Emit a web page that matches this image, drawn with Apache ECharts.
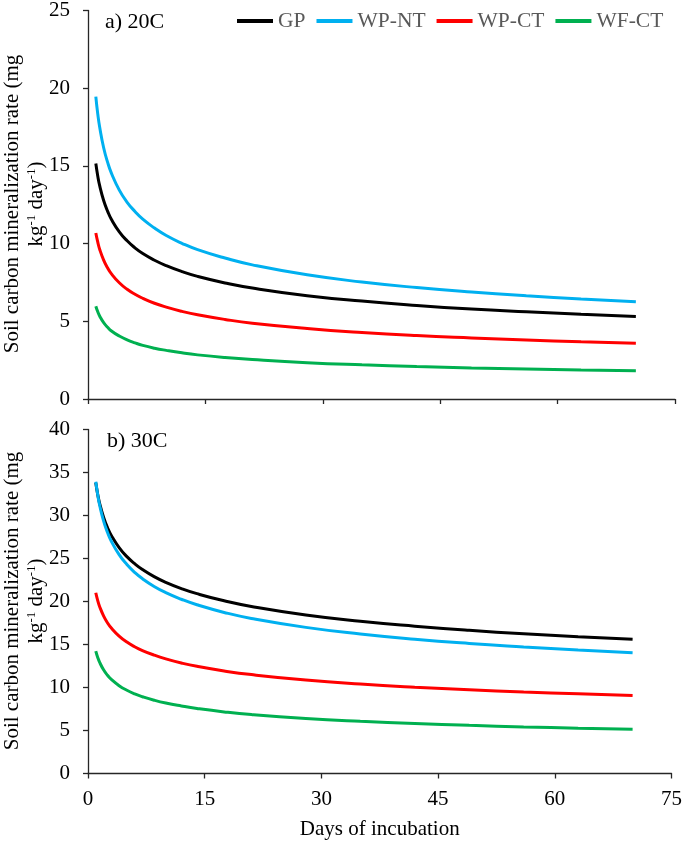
<!DOCTYPE html>
<html>
<head>
<meta charset="utf-8">
<script src="https://cdn.jsdelivr.net/npm/echarts@6/dist/echarts.min.js"></script>
<style>
html,body{margin:0;padding:0;background:#fff;}
#chart{width:685px;height:842px;}
</style>
</head>
<body>
<div id="chart"></div>
<script>
// Days of incubation
var days = [1, 1.25, 1.5, 2, 2.5, 3, 4, 5, 6, 7, 8.5, 10, 12, 14, 17.5, 21, 28, 35, 42, 49, 56, 63, 70];
var seriesNames = ['GP', 'WP-NT', 'WP-CT', 'WF-CT'];
// a) 20C
var gp20   = [15.15, 14.34, 13.71, 12.77, 12.09, 11.55, 10.76, 10.18, 9.73, 9.36, 8.93, 8.58, 8.20, 7.89, 7.47, 7.14, 6.65, 6.30, 6.02, 5.79, 5.61, 5.45, 5.31];
var wpnt20 = [19.46, 18.33, 17.47, 16.17, 15.24, 14.52, 13.44, 12.66, 12.07, 11.57, 11.00, 10.52, 10.02, 9.61, 9.07, 8.63, 7.99, 7.53, 7.17, 6.88, 6.64, 6.44, 6.26];
var wpct20 = [10.68, 10.09, 9.62, 8.94, 8.44, 8.05, 7.48, 7.06, 6.74, 6.48, 6.16, 5.91, 5.64, 5.42, 5.12, 4.88, 4.54, 4.28, 4.08, 3.93, 3.80, 3.68, 3.58];
var wfct20 = [5.97, 5.61, 5.33, 4.91, 4.62, 4.38, 4.05, 3.80, 3.61, 3.45, 3.27, 3.13, 2.97, 2.84, 2.67, 2.54, 2.34, 2.20, 2.09, 2.00, 1.93, 1.86, 1.81];
// b) 30C
var gp30   = [33.8, 32.45, 31.39, 29.80, 28.60, 27.67, 26.27, 25.22, 24.40, 23.72, 22.89, 22.23, 21.50, 20.91, 20.08, 19.42, 18.43, 17.70, 17.13, 16.65, 16.25, 15.90, 15.60];
var wpnt30 = [33.93, 32.40, 31.19, 29.38, 28.06, 27.01, 25.45, 24.30, 23.38, 22.65, 21.75, 21.03, 20.26, 19.62, 18.73, 18.03, 16.99, 16.22, 15.61, 15.12, 14.72, 14.36, 14.05];
var wpct30 = [21.02, 20.11, 19.40, 18.33, 17.53, 16.91, 15.98, 15.28, 14.74, 14.30, 13.77, 13.33, 12.85, 12.46, 11.92, 11.50, 10.87, 10.40, 10.03, 9.73, 9.47, 9.26, 9.06];
var wfct30 = [14.24, 13.50, 12.92, 12.06, 11.43, 10.94, 10.21, 9.68, 9.26, 8.93, 8.52, 8.19, 7.85, 7.56, 7.16, 6.85, 6.40, 6.07, 5.81, 5.60, 5.42, 5.27, 5.14];
var xTicks = [0, 15, 30, 45, 60, 75];

var colors = ['#000000', '#00B0F0', '#FF0000', '#00B050'];
var FONT = '"Liberation Serif", "Times New Roman", serif';
var FS = 21;

function pairs(vals){ return days.map(function(d,i){ return [d, vals[i]]; }); }

var top20 = [gp20, wpnt20, wpct20, wfct20];
var top30 = [gp30, wpnt30, wpct30, wfct30];
var series = [];
[top20, top30].forEach(function(group, gi){
  group.forEach(function(vals, i){
    series.push({
      name: seriesNames[i], type: 'line', xAxisIndex: gi, yAxisIndex: gi,
      data: pairs(vals), smooth: 0.5, showSymbol: false, symbol: 'none',
      lineStyle: {color: colors[i], width: 3}, itemStyle: {color: colors[i]},
      animation: false
    });
  });
});

var axisLineStyle = {color: '#262626', width: 1.3};
function xAxis(gi, showLabels){
  return {
    type: 'value', gridIndex: gi, min: xTicks[0], max: xTicks[xTicks.length-1], interval: 15,
    axisLine: {show: true, onZero: false, lineStyle: axisLineStyle},
    axisTick: {show: true, inside: false, length: 5, lineStyle: axisLineStyle},
    axisLabel: {show: showLabels, color: '#000', fontFamily: FONT, fontSize: FS, margin: 15},
    splitLine: {show: false},
    name: showLabels ? 'Days of incubation' : '',
    nameLocation: 'middle', nameGap: 45,
    nameTextStyle: {color: '#000', fontFamily: FONT, fontSize: FS}
  };
}
function yAxis(gi, max){
  return {
    type: 'value', gridIndex: gi, min: 0, max: max, interval: 5,
    axisLine: {show: true, lineStyle: axisLineStyle},
    axisTick: {show: true, inside: false, length: 5, lineStyle: axisLineStyle},
    axisLabel: {color: '#000', fontFamily: FONT, fontSize: FS, margin: 18},
    splitLine: {show: false}
  };
}

function yTitle(cy){
  return [
    {type: 'text', x: 12, y: cy, rotation: Math.PI/2,
     style: {text: 'Soil carbon mineralization rate (mg', fill: '#000', font: FS + 'px ' + FONT,
             textAlign: 'center', textVerticalAlign: 'middle'}},
    {type: 'text', x: 36, y: cy, rotation: Math.PI/2,
     style: {text: '{a|kg}{s|-1}{a| day}{s|-1}{a|)}', fill: '#000',
             textAlign: 'center', textVerticalAlign: 'middle',
             rich: {
               a: {fontFamily: FONT, fontSize: FS, fill: '#000', lineHeight: 22, verticalAlign: 'bottom'},
               s: {fontFamily: FONT, fontSize: 13, fill: '#000', lineHeight: 22, verticalAlign: 'top'}
             }}}
  ];
}

var chart = echarts.init(document.getElementById('chart'), null, {renderer: 'canvas'});
chart.setOption({
  animation: false,
  backgroundColor: '#ffffff',
  grid: [
    {left: 88, right: 10, top: 8, bottom: 443, containLabel: false},
    {left: 88, right: 10, top: 429.5, bottom: 68.5, containLabel: false}
  ],
  xAxis: [xAxis(0, false), xAxis(1, true)],
  yAxis: [yAxis(0, 25), yAxis(1, 40)],
  legend: {
    data: seriesNames, left: 237, top: 10, padding: 0, icon: 'rect', itemWidth: 36, itemHeight: 4, itemGap: 11,
    textStyle: {color: '#595959', fontFamily: FONT, fontSize: 21.5}
  },
  graphic: [
    {type: 'text', x: 105, y: 22, style: {text: 'a) 20C', fill: '#000', font: '22px ' + FONT, textVerticalAlign: 'middle'}},
    {type: 'text', x: 107, y: 441, style: {text: 'b) 30C', fill: '#000', font: '22px ' + FONT, textVerticalAlign: 'middle'}}
  ].concat(yTitle(204)).concat(yTitle(601)),
  series: series
});
</script>
</body>
</html>
